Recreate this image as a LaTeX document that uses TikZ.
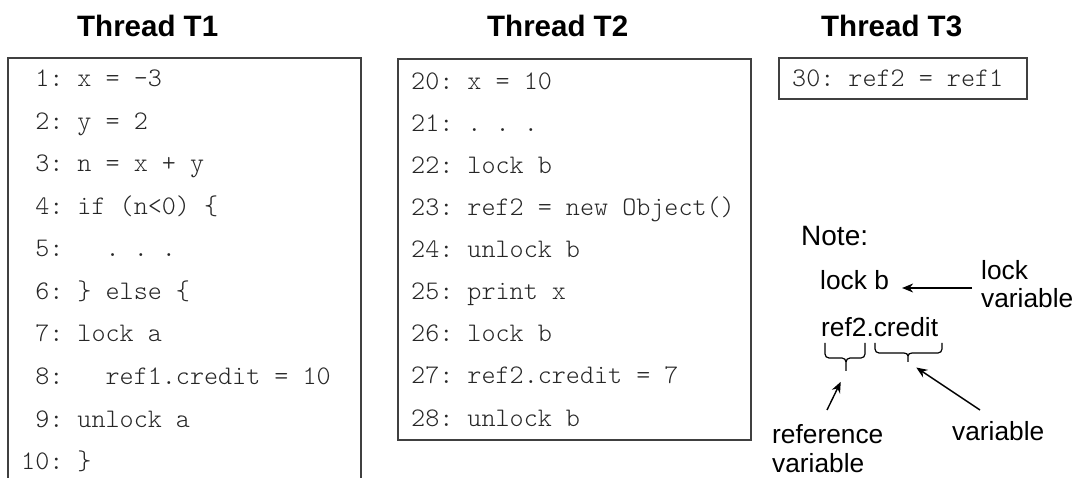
\documentclass[tikz,border=0pt]{standalone}
\usepackage{fontspec}
\setmainfont{Liberation Sans}
\usetikzlibrary{arrows.meta}
\newcommand\codefont{\fontsize{26.8}{30}\fontseries{l}\ttfamily\selectfont\frenchspacing}
\newcommand\headfont{\fontsize{29.5}{34}\selectfont\bfseries}
\newcommand\notefont{\fontsize{26.3}{28}\selectfont}
\begin{document}
\begin{tikzpicture}[x=1pt,y=-1pt,
  head/.style={anchor=base west, inner sep=0pt, font=\headfont},
  code/.style={anchor=base west, inner sep=0pt, font=\codefont, text=black!85},
  lbl/.style={anchor=base west, inner sep=0pt, font=\notefont},
  frame/.style={draw=black!75, line width=1.2pt},
  pointer/.style={-{Stealth[length=11pt,width=9pt]}, line width=1.4pt},
  bracket/.style={draw=black, line width=1.2pt}]
\useasboundingbox (0,0) rectangle (1082,478);

% headings
\node[head] (h1) at (77,37) {Thread T1};
\node[head] (h2) at (487,37) {Thread T2};
\node[head] (h3) at (821,37) {Thread T3};

% thread T1 (frame runs past the bottom edge)
\draw[frame] (8,478) -- (8,58) -- (361,58) -- (361,478);
\node[code] (t1a) at (21,87)    {\ 1: x = -3};
\node[code] (t1b) at (21,129.5) {\ 2: y = 2};
\node[code] (t1c) at (21,172)   {\ 3: n = x + y};
\node[code] (t1d) at (21,214.5) {\ 4: if (n<0) \{};
\node[code] (t1e) at (21,257)   {\ 5:\ \ \ . . .};
\node[code] (t1f) at (21,299.5) {\ 6: \} else \{};
\node[code] (t1g) at (21,342)   {\ 7: lock a};
\node[code] (t1h) at (21,384.5) {\ 8:\ \ \ ref1.credit = 10};
\node[code] (t1i) at (21,427)   {\ 9: unlock a};
\node[code] (t1j) at (21,469.5) {10: \}};

% thread T2
\draw[frame] (398,59) rectangle (751,440);
\node[code] (t2a) at (411,90)  {20: x = 10};
\node[code] (t2b) at (411,132) {21: . . .};
\node[code] (t2c) at (411,174) {22: lock b};
\node[code] (t2d) at (411,216) {23: ref2 = new Object()};
\node[code] (t2e) at (411,258) {24: unlock b};
\node[code] (t2f) at (411,300) {25: print x};
\node[code] (t2g) at (411,342) {26: lock b};
\node[code] (t2h) at (411,384) {27: ref2.credit = 7};
\node[code] (t2i) at (411,426) {28: unlock b};

% thread T3
\draw[frame] (779,58) rectangle (1027,99);
\node[code] (t3a) at (792,87) {30: ref2 = ref1};

% note
\node[lbl, font=\fontsize{28}{30}\selectfont] (note) at (801,246) {Note:};
\node[lbl] (lockb) at (820,290) {lock b};
\node[lbl] (lockvarA) at (981,280) {lock};
\node[lbl] (lockvarB) at (981,308) {variable};
\node[lbl] (refcredit) at (821,337) {ref2.credit};
\node[lbl] (refvarA) at (772,443) {reference};
\node[lbl] (refvarB) at (772,472) {variable};
\node[lbl] (plainvar) at (952,440) {variable};

% braces under the two parts of the field access
\draw[bracket] (825,343) -- (825,354) to[out=-90,in=180] (829,358) -- (842,358)
  to[out=0,in=90] (846,362) -- (846,371);
\draw[bracket] (846,362) to[out=90,in=180] (850,358) -- (861,358)
  to[out=0,in=-90] (865,354) -- (865,343);
\draw[bracket] (875,343) -- (875,349) to[out=-90,in=180] (879,353) -- (904,353)
  to[out=0,in=90] (908,356) -- (908,362);
\draw[bracket] (908,356) to[out=90,in=180] (912,353) -- (938,353)
  to[out=0,in=-90] (942,349) -- (942,343);
\coordinate (braceA) at (846,371);
\coordinate (braceB) at (908,362);

% pointers
\coordinate (lockfrom) at (972,288);
\coordinate (reffrom) at (827,410);
\coordinate (varfrom) at (980,410);
\draw[pointer, shorten >=13pt] (lockfrom) -- (lockfrom -| lockb.east);
\draw[pointer, shorten >=12pt] (reffrom) -- (braceA);
\draw[pointer, shorten >=10pt] (varfrom) -- (braceB);
\end{tikzpicture}
\end{document}
